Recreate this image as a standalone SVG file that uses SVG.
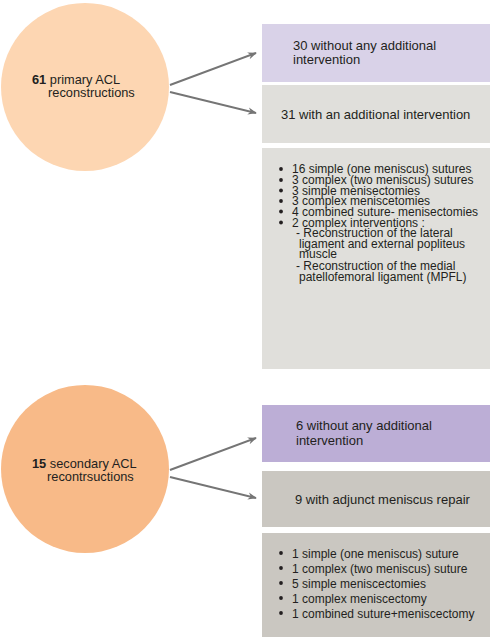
<svg xmlns="http://www.w3.org/2000/svg" width="491" height="638" viewBox="0 0 491 638">
<style>
text{font-family:"Liberation Sans",Arial,sans-serif;fill:#231f20;}
.c{font-size:12.8px;}
.b{font-size:13px;}
.l{font-size:12px;}
.dot{fill:#231f20;}
.conn line{stroke:#757575;stroke-width:2;fill:none;}
</style>
<defs>
<marker id="ah" viewBox="0 0 10 10" refX="9" refY="5" markerWidth="4.5" markerHeight="4.5" orient="auto" markerUnits="strokeWidth">
<path d="M0,1 L10,5 L0,9 L3,5 Z" fill="#757575"/>
</marker>
</defs>
<rect width="491" height="638" fill="#ffffff"/>
<g id="circle1">
<circle cx="85" cy="87" r="84" fill="#fdd6b2"/>
<text class="c"><tspan x="32" y="84"><tspan font-weight="bold">61</tspan> primary ACL</tspan><tspan x="48" y="97">reconstructions</tspan></text>
</g>
<g id="circle2">
<circle cx="85" cy="469" r="84" fill="#f8ba88"/>
<text class="c"><tspan x="32" y="468"><tspan font-weight="bold">15</tspan> secondary ACL</tspan><tspan x="47" y="481">recontrsuctions</tspan></text>
</g>
<g id="box1">
<rect x="262" y="24" width="228" height="58" fill="#d9d2e8"/>
<text class="b"><tspan x="293" y="50">30 without any additional</tspan><tspan x="293" y="64">intervention</tspan></text>
</g>
<g id="box2">
<rect x="262" y="85" width="228" height="58" fill="#e0dfdb"/>
<text class="b" x="281" y="119">31 with an additional intervention</text>
</g>
<g id="box3">
<rect x="262" y="148" width="228" height="221" fill="#e0dfdb"/>
<g class="dot">
<circle cx="281" cy="169" r="1.9"/>
<circle cx="281" cy="180" r="1.9"/>
<circle cx="281" cy="190.5" r="1.9"/>
<circle cx="281" cy="201" r="1.9"/>
<circle cx="281" cy="211.5" r="1.9"/>
<circle cx="281" cy="222.5" r="1.9"/>
</g>
<text class="l"><tspan x="292" y="173">16 simple (one meniscus) sutures</tspan><tspan x="292" y="184">3 complex (two meniscus) sutures</tspan><tspan x="292" y="194.5">3 simple menisectomies</tspan><tspan x="292" y="205">3 complex meniscetomies</tspan><tspan x="292" y="215.5">4 combined suture- menisectomies</tspan><tspan x="292" y="226.5">2 complex interventions :</tspan><tspan x="296" y="237">- Reconstruction of the lateral</tspan><tspan x="299" y="248">ligament and external popliteus</tspan><tspan x="299" y="258">muscle</tspan><tspan x="296" y="269.5">- Reconstruction of the medial</tspan><tspan x="299" y="280.5">patellofemoral ligament (MPFL)</tspan></text>
</g>
<g id="box4">
<rect x="262" y="405" width="228" height="57" fill="#bcaed6"/>
<text class="b"><tspan x="296" y="430">6 without any additional</tspan><tspan x="296" y="445">intervention</tspan></text>
</g>
<g id="box5">
<rect x="262" y="471" width="228" height="56" fill="#cac7c1"/>
<text class="b" x="295" y="504">9 with adjunct meniscus repair</text>
</g>
<g id="box6">
<rect x="262" y="533" width="228" height="104" fill="#cac7c1"/>
<g class="dot">
<circle cx="281" cy="553" r="1.9"/>
<circle cx="281" cy="568" r="1.9"/>
<circle cx="281" cy="583" r="1.9"/>
<circle cx="281" cy="598" r="1.9"/>
<circle cx="281" cy="613" r="1.9"/>
</g>
<text class="l"><tspan x="292" y="557.5">1 simple (one meniscus) suture</tspan><tspan x="292" y="572.5">1 complex (two meniscus) suture</tspan><tspan x="292" y="587.5">5 simple meniscectomies</tspan><tspan x="292" y="602.5">1 complex meniscectomy</tspan><tspan x="292" y="617.5">1 combined suture+meniscectomy</tspan></text>
</g>
<g id="connectors" class="conn">
<line x1="170" y1="85" x2="256" y2="53" marker-end="url(#ah)"/>
<line x1="170" y1="92" x2="256" y2="113" marker-end="url(#ah)"/>
<line x1="170" y1="470" x2="256" y2="438" marker-end="url(#ah)"/>
<line x1="170" y1="477" x2="256" y2="498" marker-end="url(#ah)"/>
</g>
</svg>
